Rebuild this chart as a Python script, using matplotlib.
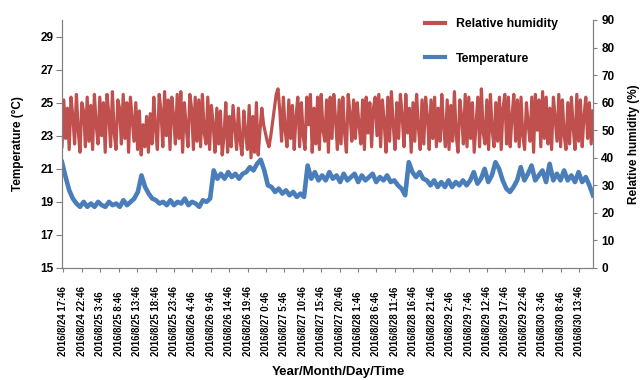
import datetime
import numpy as np
import matplotlib
matplotlib.use("Agg")
import matplotlib.pyplot as plt
from matplotlib.lines import Line2D

plt.rcParams['font.family'] = ['Liberation Sans', 'DejaVu Sans']
plt.rcParams['font.weight'] = 'bold'

# relative humidity (%), one reading roughly every 30 min
rh = [
    44, 61, 47, 58, 43, 62, 55, 45, 63, 50,
    42, 60, 57, 44, 62, 46, 59, 43, 63, 52,
    45, 62, 48, 60, 42, 63, 56, 44, 64, 49,
    43, 61, 58, 45, 63, 47, 60, 42, 62, 54,
    46, 60, 43, 57, 41, 52, 44, 55, 42, 56,
    45, 62, 50, 43, 63, 57, 44, 64, 48, 61,
    43, 62, 55, 45, 63, 47, 64, 42, 60, 51,
    44, 63, 58, 43, 62, 46, 61, 44, 63, 49,
    45, 62, 43, 59, 52, 42, 58, 45, 57, 41,
    48, 60, 42, 55, 44, 59, 51, 43, 58, 46,
    41, 57, 49, 43, 59, 40, 55, 42, 60, 41,
    50, 58, 52, 49, 46, 44, 48, 53, 58, 63,
    65, 57, 46, 62, 50, 44, 61, 47, 59, 43,
    55, 62, 44, 60, 48, 43, 62, 52, 63, 42,
    58, 45, 62, 43, 63, 50, 46, 61, 42, 62,
    47, 63, 54, 43, 61, 45, 62, 49, 42, 63,
    56, 46, 61, 47, 60, 52, 45, 61, 43, 62,
    49, 60, 44, 58, 62, 48, 63, 44, 61, 53,
    42, 62, 46, 64, 52, 43, 60, 47, 63, 55,
    44, 63, 49, 58, 42, 60, 46, 63, 51, 43,
    61, 45, 62, 55, 43, 61, 47, 62, 44, 58,
    46, 63, 51, 44, 61, 43, 59, 46, 64, 48,
    42, 61, 55, 45, 63, 44, 62, 47, 60, 42,
    52, 62, 44, 65, 49, 45, 61, 43, 63, 50,
    44, 60, 46, 62, 43, 58, 63, 45, 62, 44,
    55, 63, 46, 61, 44, 62, 48, 43, 60, 52,
    46, 62, 42, 63, 50, 61, 44, 64, 47, 62,
    45, 58, 43, 62, 54, 46, 63, 44, 61, 48,
    43, 60, 45, 62, 51, 43, 63, 46, 61, 44,
    55, 62, 47, 60, 45, 57,
]

# temperature (deg C), roughly hourly
temp = [
    21.4, 20.5, 19.7, 19.2,
    18.9, 18.7, 19.0, 18.7, 18.9, 18.7, 19.0, 18.8, 18.7, 19.0, 18.8, 18.9, 18.7, 19.1, 18.8, 19.0,
    19.2, 19.6, 20.6, 19.9, 19.5, 19.2,
    19.1, 18.9, 19.0, 18.8, 19.1, 18.8, 19.0, 18.9, 19.2, 18.8, 19.0, 18.9, 18.7, 19.1, 19.0, 19.2,
    20.9,
    20.4, 20.7, 20.4, 20.8, 20.5, 20.7, 20.4, 20.7,
    20.8, 21.1, 20.9, 21.3, 21.55,
    20.9, 20.0,
    19.9, 19.6, 19.8, 19.5, 19.7, 19.4, 19.6, 19.3, 19.5,
    19.3, 21.2,
    20.4, 20.8, 20.3, 20.6, 20.3, 20.8, 20.4, 20.6, 20.2, 20.7, 20.3, 20.5, 20.7,
    20.2, 20.6, 20.3, 20.5, 20.7, 20.2, 20.5, 20.3, 20.6, 20.2, 20.3, 20.0,
    19.8, 19.4, 21.4,
    20.8, 20.5, 20.8, 20.4,
    20.3, 20.0, 20.3, 19.9, 20.2, 19.9, 20.3, 19.9, 20.2, 20.0, 20.3, 20.0,
    20.3, 20.8, 20.1, 20.4, 21.0, 20.2, 20.6, 21.4, 21.0,
    20.3, 19.8, 19.6, 19.9,
    20.3, 21.1, 20.3, 20.7, 21.2, 20.3, 20.6, 20.9, 20.2, 21.3,
    20.3, 20.7, 20.3, 20.9, 20.3, 20.6, 20.2, 20.8, 20.2, 20.5,
    20.0, 19.4,
]

span_hours = 144.2
first_tick = 0.4
start = datetime.datetime(2016, 8, 24, 17, 46)
tick_times = [start + datetime.timedelta(hours=5 * k) for k in range(29)]
tick_labels = [f"{d.year}/{d.month}/{d.day} {d.hour}:{d.minute:02d}" for d in tick_times]

t_rh = np.linspace(0, span_hours, len(rh))
t_temp = np.linspace(0, span_hours, len(temp))
tick_pos = first_tick + 5 * np.arange(len(tick_labels))

red = '#C0504D'
blue = '#4A7EBB'
spine_col = '#808080'

fig = plt.figure(figsize=(6.42, 3.80), dpi=100)
ax = fig.add_axes([62 / 642, 1 - 268 / 380, (593 - 62) / 642, 248 / 380])
ax2 = ax.twinx()

ax2.plot(t_rh, rh, color=red, lw=2.3)
ax.plot(t_temp, temp, color=blue, lw=3.3)

ax.set_xlim(0, span_hours)
ax.set_ylim(15, 30)
ax.set_yticks(np.arange(15, 30, 2))
ax2.set_ylim(0, 90)
ax2.set_yticks(np.arange(0, 91, 10))

ax.set_xticks(tick_pos)
ax.set_xticklabels(tick_labels, rotation=90, va='bottom', fontsize=6.9)
ax.tick_params(axis='x', length=3, pad=60.5, color=spine_col)
ax.tick_params(axis='y', labelsize=8.5, length=4, pad=2, color=spine_col)
ax2.tick_params(axis='y', labelsize=8.5, length=3, pad=3, color=spine_col)

for a in (ax, ax2):
    a.spines['top'].set_visible(False)
    for s in ('left', 'right', 'bottom'):
        a.spines[s].set_color(spine_col)

ax.set_ylabel('Temperature (°C)', fontsize=8.5, fontweight='bold', labelpad=12)
ax2.set_ylabel('Relative humidity (%)', fontsize=8.5, fontweight='bold', labelpad=10)
fig.text(338 / 642, 1 - 372 / 380, 'Year/Month/Day/Time', fontsize=9.5,
         fontweight='bold', ha='center', va='center')

handles = [Line2D([], [], color=red, lw=3), Line2D([], [], color=blue, lw=3)]
fig.legend(handles, ['Relative humidity', 'Temperature'], loc='upper left',
           bbox_to_anchor=(425 / 642, 1 - 18 / 380), frameon=False, borderpad=0,
           borderaxespad=0, fontsize=8.8, handlelength=1.6, handletextpad=0.9,
           labelspacing=1.85)

fig.savefig('out.png', dpi=100)
